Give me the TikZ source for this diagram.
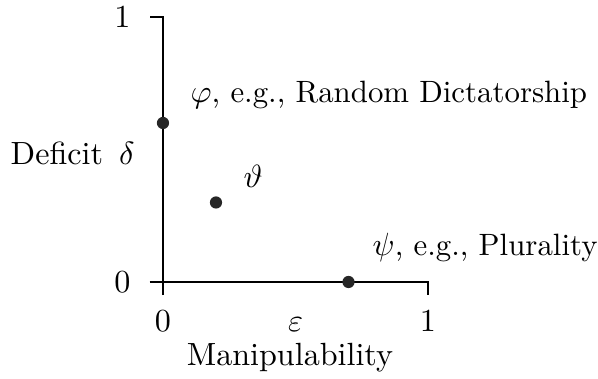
\documentclass[tikz,border=0pt]{standalone}
\usetikzlibrary{positioning}
\begin{document}
\begin{tikzpicture}[
  x=2.9cm, y=2.9cm,
  dot/.style={circle, fill=black!85, inner sep=0pt, minimum size=3.8pt},
  lab/.style={inner sep=0pt},
  rule/.style={lab, anchor=base west, font=\fontsize{9.6pt}{11pt}\selectfont}
]
\useasboundingbox (-0.615,-0.3647) rectangle (1.6415,1.064);
% axes
\coordinate (xstart) at (-0.05,0);
\coordinate (xend) at (1,0);
\coordinate (xtick) at (1,-0.05);
\coordinate (ystart) at (0,-0.05);
\coordinate (yend) at (0,1);
\coordinate (ytick) at (-0.05,1);
\draw (xstart) -- (xend) -- (xtick);
\draw (ystart) -- (yend) -- (ytick);
% tick labels
\node[lab] (y0) at (-0.153,0) {$0$};
\node[lab] (y1) at (-0.153,1) {$1$};
\node[lab, anchor=base] (x0) at (0,-0.188) {$0$};
\node[lab, anchor=base] (x1) at (1,-0.188) {$1$};
\node[lab, anchor=base] (eps) at (0.5,-0.188) {$\varepsilon$};
\node[lab, anchor=base] (xlab) at (0.479,-0.315) {Manipulability};
\node[lab, anchor=base west] (ylab) at (-0.577,0.444) {Deficit $\,\delta$};
% rules
\node[dot] (phi) at (0,0.6) {};
\node[dot] (theta) at (0.2,0.3) {};
\node[dot] (psi) at (0.7,0) {};
\node[rule] (philab) at (0.102,0.677) {$\varphi$, e.g., Random Dictatorship};
\node[lab, anchor=base west] (thetalab) at (0.302,0.357) {$\vartheta$};
\node[rule] (psilab) at (0.789,0.1015) {$\psi$, e.g., Plurality};
\end{tikzpicture}
\end{document}
